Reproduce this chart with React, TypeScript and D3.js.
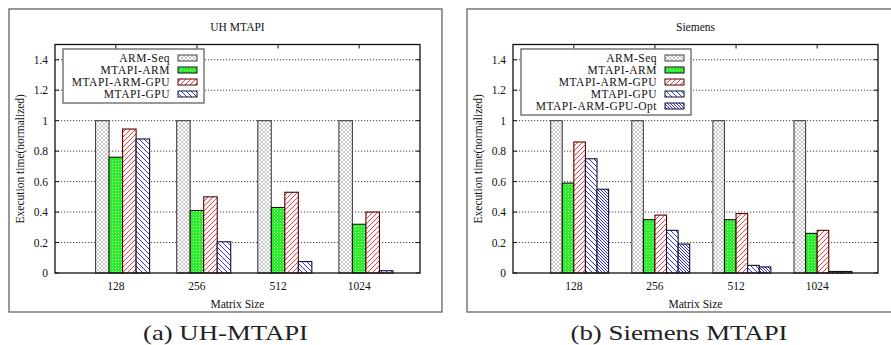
import * as d3 from "d3";

const sizes = ["128", "256", "512", "1024"];
const yTicks = [0, 0.2, 0.4, 0.6, 0.8, 1, 1.2, 1.4];

const uhSeries = ["ARM-Seq", "MTAPI-ARM", "MTAPI-ARM-GPU", "MTAPI-GPU"];
const uhArmSeq = [1, 1, 1, 1];
const uhArm = [0.76, 0.41, 0.43, 0.32];
const uhArmGpu = [0.945, 0.5, 0.53, 0.4];
const uhGpu = [0.88, 0.205, 0.075, 0.015];

const smSeries = ["ARM-Seq", "MTAPI-ARM", "MTAPI-ARM-GPU", "MTAPI-GPU", "MTAPI-ARM-GPU-Opt"];
const smArmSeq = [1, 1, 1, 1];
const smArm = [0.59, 0.35, 0.35, 0.26];
const smArmGpu = [0.86, 0.38, 0.39, 0.28];
const smGpu = [0.75, 0.28, 0.05, 0.01];
const smOpt = [0.55, 0.19, 0.04, 0.01];

// fill pattern + border per series index
const fills = ["url(#pSeq)", "url(#pArm)", "url(#pRed)", "url(#pBlue)", "url(#pOpt)"];
const strokes = ["#444", "#111", "#500", "#112", "#112"];

const FONT = "'Liberation Serif', 'Times New Roman', serif";

type PanelProps = {
  title: string;
  caption: string;
  captionWidth: number;
  series: string[];
  values: number[][];
  plotLeft: number;
  boxLeft: number;
  boxRight: number;
  legendText: number; // offset of legend text right edge from plot left
};

function Panel({ title, caption, captionWidth, series, values, plotLeft, boxLeft, boxRight, legendText }: PanelProps) {
  const plotW = 365;
  const top = 44.5;
  const bottom = 273;
  const x = d3.scaleLinear().domain([-0.75, 3.75]).range([plotLeft, plotLeft + plotW]);
  const y = d3.scaleLinear().domain([0, 1.5]).range([bottom, top]);
  const n = series.length;
  const bw = (x(1) - x(0)) / (n + 2);
  const cx = plotLeft + plotW / 2;

  const lgLeft = plotLeft + 8;
  const lgTextRight = plotLeft + legendText;
  const swLeft = lgTextRight + 8;
  const swW = 19;
  const lgRight = swLeft + swW + 7;
  const lgTop = 49;
  const rowH = 12;
  const lgBottom = lgTop + 6 + n * rowH;

  return (
    <g fontFamily={FONT} fill="#111">
      <rect x={boxLeft} y={9} width={boxRight - boxLeft} height={303} fill="none" stroke="#555" strokeWidth={1.2} />
      <text x={cx} y={31} textAnchor="middle" fontSize={11.5}>{title}</text>

      {yTicks.map((t) => (
        <g key={t}>
          {t > 0 && (
            <line x1={plotLeft} x2={plotLeft + plotW} y1={y(t)} y2={y(t)} stroke="#444" strokeWidth={1} strokeDasharray="1.2,1.8" />
          )}
          <line x1={plotLeft} x2={plotLeft + 4} y1={y(t)} y2={y(t)} stroke="#111" />
          <line x1={plotLeft + plotW - 4} x2={plotLeft + plotW} y1={y(t)} y2={y(t)} stroke="#111" />
          <text x={plotLeft - 7} y={y(t) + 4} textAnchor="end" fontSize={11.5}>{String(t)}</text>
        </g>
      ))}

      {values.map((vals, si) =>
        vals.map((v, k) => {
          const left = x(k) + (si - (n - 1) / 2) * bw;
          return (
            <rect key={`${si}-${k}`} x={left} y={y(v)} width={bw} height={bottom - y(v)}
              fill={fills[si]} stroke={strokes[si]} strokeWidth={1.1} />
          );
        }),
      )}

      {sizes.map((s, k) => (
        <g key={s}>
          <line x1={x(k)} x2={x(k)} y1={top} y2={top + 4} stroke="#111" />
          <text x={x(k)} y={290} textAnchor="middle" fontSize={11.5}>{s}</text>
        </g>
      ))}

      <rect x={plotLeft} y={top} width={plotW} height={bottom - top} fill="none" stroke="#111" strokeWidth={1.3} />

      <rect x={lgLeft} y={lgTop} width={lgRight - lgLeft} height={lgBottom - lgTop} fill="#fff" stroke="#555" strokeWidth={1.2} />
      {series.map((s, i) => {
        const ry = lgTop + 9 + i * rowH;
        return (
          <g key={s}>
            <text x={lgTextRight} y={ry + 4} textAnchor="end" fontSize={11.5} letterSpacing={0.5}>{s}</text>
            <rect x={swLeft} y={ry - 3} width={swW} height={6} fill={fills[i]} stroke={strokes[i]} strokeWidth={1} />
          </g>
        );
      })}

      <text x={cx} y={308} textAnchor="middle" fontSize={11.5}>Matrix Size</text>
      <text transform={`translate(${plotLeft - 31},${(top + bottom) / 2}) rotate(-90)`} textAnchor="middle" fontSize={11.5}>
        Execution time(normalized)
      </text>
      <text x={(boxLeft + Math.min(boxRight, 891)) / 2} y={340} textAnchor="middle" fontSize={21} fill="#222"
        textLength={captionWidth} lengthAdjust="spacingAndGlyphs">
        {caption}
      </text>
    </g>
  );
}

export default function App() {
  return (
    <svg width={891} height={345} style={{ position: "absolute", left: 0, top: 0, background: "#fff" }}>
      <defs>
        <pattern id="pSeq" patternUnits="userSpaceOnUse" width={4} height={4}>
          <rect width={4} height={4} fill="#fff" />
          <path d="M0,0L4,4M4,0L0,4" stroke="#c4c4c4" strokeWidth={0.9} />
        </pattern>
        <pattern id="pArm" patternUnits="userSpaceOnUse" width={3} height={3}>
          <rect width={3} height={3} fill="#2af02a" />
          <rect x={1} y={1} width={1} height={1} fill="#d8ffd8" />
        </pattern>
        <pattern id="pRed" patternUnits="userSpaceOnUse" width={5} height={5}>
          <rect width={5} height={5} fill="#fff" />
          <path d="M-1,6L6,-1M-1,1L1,-1M4,6L6,4" stroke="#ff3b3b" strokeWidth={1} />
        </pattern>
        <pattern id="pBlue" patternUnits="userSpaceOnUse" width={5} height={5}>
          <rect width={5} height={5} fill="#fff" />
          <path d="M-1,-1L6,6M-1,4L1,6M4,-1L6,1" stroke="#3030ff" strokeWidth={1} />
        </pattern>
        <pattern id="pOpt" patternUnits="userSpaceOnUse" width={3} height={3}>
          <rect width={3} height={3} fill="#fff" />
          <path d="M-1,-1L4,4M-1,2L1,4M2,-1L4,1" stroke="#2828ee" strokeWidth={1} />
        </pattern>
      </defs>
      <Panel
        title="UH MTAPI"
        caption="(a) UH-MTAPI"
        captionWidth={165}
        series={uhSeries}
        values={[uhArmSeq, uhArm, uhArmGpu, uhGpu]}
        plotLeft={55}
        boxLeft={9}
        boxRight={442}
        legendText={115}
      />
      <Panel
        title="Siemens"
        caption="(b) Siemens MTAPI"
        captionWidth={217}
        series={smSeries}
        values={[smArmSeq, smArm, smArmGpu, smGpu, smOpt]}
        plotLeft={513}
        boxLeft={467}
        boxRight={900}
        legendText={144}
      />
    </svg>
  );
}
